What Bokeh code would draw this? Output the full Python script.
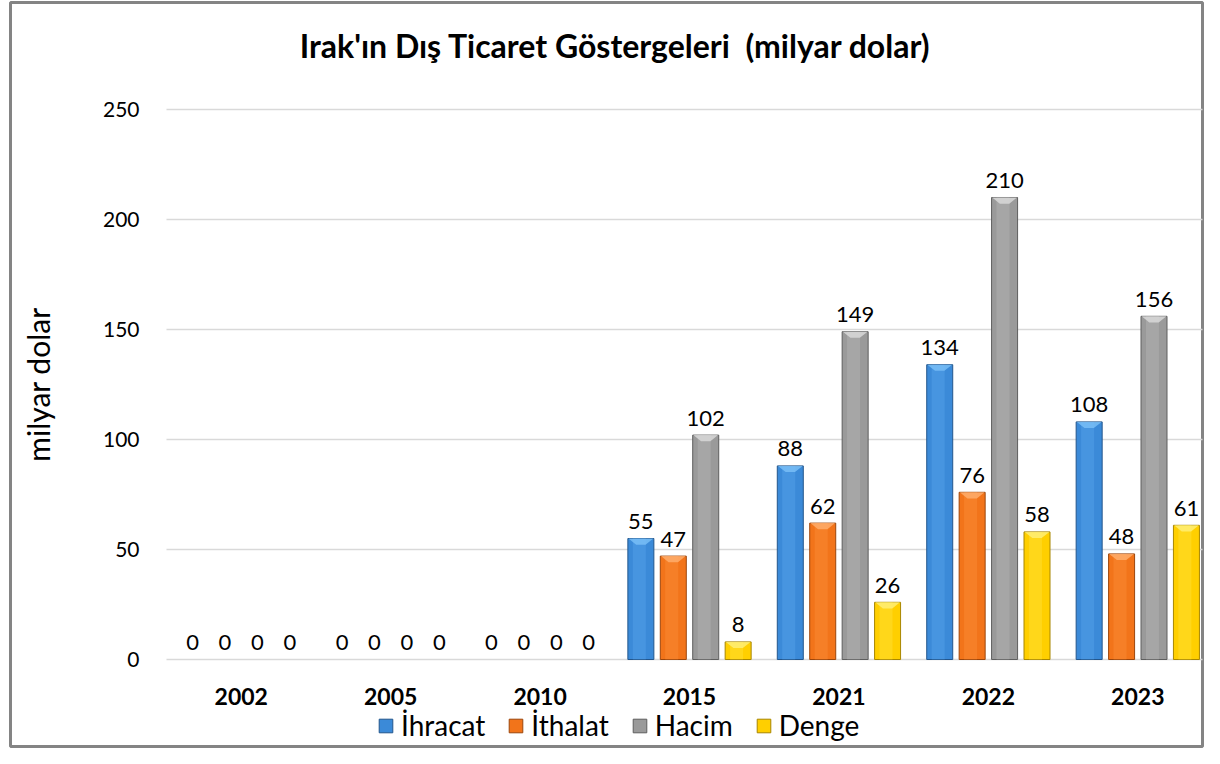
import math
from bokeh.plotting import figure
from bokeh.models import (ColumnDataSource, Range1d, Legend, LegendItem,
                          CDSView, BooleanFilter, Label)
from bokeh.core.properties import value
from bokeh.embed import file_html
from bokeh.resources import INLINE

years = ["2002", "2005", "2010", "2015", "2021", "2022", "2023"]
ihracat = [0, 0, 0, 55, 88, 134, 108]
ithalat = [0, 0, 0, 47, 62, 76, 48]
hacim = [0, 0, 0, 102, 149, 210, 156]
denge = [0, 0, 0, 8, 26, 58, 61]
series_names = ["İhracat", "İthalat", "Hacim", "Denge"]
series_vals = [ihracat, ithalat, hacim, denge]
y_ticks = [0, 50, 100, 150, 200, 250]
title_text = "Irak'ın Dış Ticaret Göstergeleri\u00a0\u00a0(milyar dolar)"
y_title = "milyar dolar"

fills = ["#3b8ad8", "#f2741a", "#9a9a9a", "#ffcf00"]
lights = ["#5eaaf0", "#ff9442", "#bdbdbd", "#ffe54a"]
caps = ["#7cc0f7", "#ffb070", "#dcdcdc", "#fff07a"]
edges = ["#23568c", "#9c460c", "#5e5e5e", "#a88600"]

FONT = "Lato"
W, H = 1204, 748
n = len(years)
xs = list(range(n))

p = figure(x_range=Range1d(-1.54397, 6.43301), y_range=Range1d(-39.545, 298.636),
           width=W, height=H, output_backend="svg", toolbar_location=None,
           x_axis_location=None, y_axis_location=None,
           min_border_left=10, min_border_right=2, min_border_top=2, min_border_bottom=2)
p.background_fill_color = "white"
p.border_fill_color = "white"
p.outline_line_color = "#848484"
p.outline_line_width = 3
p.xgrid.grid_line_color = None
p.ygrid.grid_line_color = None

# horizontal grid lines across the plot area
grid_src = ColumnDataSource(dict(x0=[-0.5] * len(y_ticks), x1=[n - 0.45] * len(y_ticks), y=y_ticks,
                                 lbl=[str(t) for t in y_ticks]))
p.segment(x0="x0", y0="y", x1="x1", y1="y", source=grid_src, line_color="#d9d9d9", line_width=1.5)
# y tick labels
p.text(x="x0", y="y", text="lbl", source=grid_src, text_align="right", text_baseline="middle",
       x_offset=-27, text_font=value(FONT), text_font_size="21px", text_color="#000000")

# y axis title
p.text(x=[-0.5], y=[(y_ticks[0] + y_ticks[-1]) / 2], text=[y_title], angle=math.pi / 2,
       x_offset=-129, text_align="center", text_baseline="middle",
       text_font=value(FONT), text_font_size="30px", text_color="#000000")

# category labels under the zero line
cat_src = ColumnDataSource(dict(x=xs, y=[0] * n, lbl=years))
p.text(x="x", y="y", text="lbl", source=cat_src, text_align="center", text_baseline="middle",
       y_offset=37, text_font=value(FONT), text_font_size="23px", text_font_style="bold",
       text_color="#000000")

pitch = 0.217
bw = 0.174
offsets = [-1.5 * pitch, -0.5 * pitch, 0.5 * pitch, 1.5 * pitch]
cap_h = 2.8  # bevel depth in data units (~6 px)

items = []
for name, vals, fc, lc, cc, ec, off in zip(series_names, series_vals, fills, lights, caps, edges, offsets):
    bx = [i + off for i in xs]
    src = ColumnDataSource(dict(x=bx, xh=[b - bw * 0.06 for b in bx],
                                top=vals, lbl=[str(v) for v in vals]))
    keep = [v > 0 for v in vals]
    view = CDSView(filter=BooleanFilter(keep))
    r = p.vbar(x="x", top="top", width=bw, source=src, view=view,
               fill_color=fc, line_color=ec, line_width=1)
    p.vbar(x="xh", top="top", width=bw * 0.5, source=src, view=view,
           fill_color=lc, fill_alpha=0.35, line_color=None)
    # top bevel
    px, py = [], []
    for b, v, k in zip(bx, vals, keep):
        if k:
            px.append([b - bw / 2 + 0.004, b + bw / 2 - 0.004, b + bw * 0.18, b - bw * 0.18])
            py.append([v, v, v - cap_h, v - cap_h])
    p.patches(xs=px, ys=py, fill_color=cc, fill_alpha=0.8, line_color=None)
    p.text(x="x", y="top", text="lbl", source=src,
           text_align="center", text_baseline="alphabetic", y_offset=-17,
           text_font=value(FONT), text_font_size="22px", text_color="#000000")
    items.append(LegendItem(label=name, renderers=[r]))

legend = Legend(items=items, orientation="horizontal", location=(367, 4),
                label_text_font=FONT, label_text_font_size="28px", label_text_color="#000000",
                glyph_width=17, glyph_height=17, spacing=22, label_standoff=7,
                border_line_color=None, background_fill_alpha=0, padding=0, margin=0)
p.add_layout(legend, "center")

title = Label(x=605, y=701, x_units="screen", y_units="screen", text=title_text,
              text_align="center", text_baseline="middle", text_font=FONT,
              text_font_size="32px", text_font_style="bold", text_color="#000000")
p.add_layout(title)

open("out.html", "w").write(file_html(p, INLINE))
